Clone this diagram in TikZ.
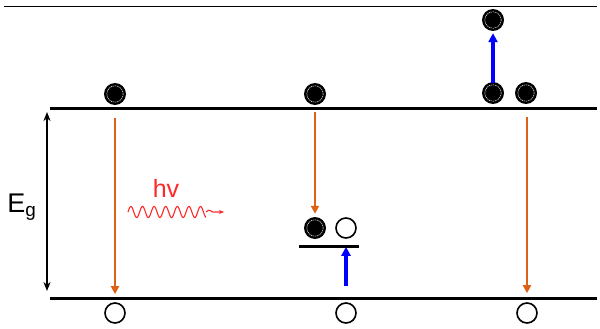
\documentclass[tikz,border=0pt]{standalone}
\usepackage{fontspec}
\setmainfont{Liberation Sans}
\usetikzlibrary{arrows.meta}
\definecolor{transorange}{RGB}{222,98,22}
\definecolor{photonred}{RGB}{255,40,40}
\tikzset{
  electron/.style={circle,fill=black,minimum size=22pt,inner sep=0pt,
    path picture={\draw[white,line width=0.5pt,dash pattern=on 1.2pt off 0.8pt]
      (path picture bounding box.center) circle[radius=8.2pt];}},
  hole/.style={circle,draw=black,line width=1.6pt,minimum size=20pt,inner sep=0pt},
  band/.style={line width=3pt},
  orangearrow/.style={transorange,line width=2.8pt,-{Triangle[length=8pt,width=8pt]}},
  bluearrow/.style={blue,line width=3.2pt,-{Triangle[length=9pt,width=9pt]}},
}
\begin{document}
\begin{tikzpicture}[x=1pt,y=-1pt]
\useasboundingbox (0,0) rectangle (600,329);
% top thin line
\coordinate (tl) at (4,7);
\coordinate (tr) at (597,7);
\draw[line width=1pt] (tl) -- (tr);
% bands
\coordinate (cbl) at (50,108);
\coordinate (cbr) at (597,108);
\coordinate (vbl) at (50,298);
\coordinate (vbr) at (597,298);
\draw[band] (cbl) -- (cbr);
\draw[band] (vbl) -- (vbr);
% trap level
\coordinate (trl) at (299,246);
\coordinate (trr) at (359,246);
\draw[band] (trl) -- (trr);
% Eg arrow
\coordinate (egt) at (47,112);
\coordinate (egb) at (47,291);
\draw[line width=2.4pt,{Stealth[length=9pt,width=7pt]}-{Stealth[length=9pt,width=7pt]}] (egt) -- (egb);
\node (eg) at (22,207) {\fontsize{27}{31}\selectfont E\textsubscript{g}};
% electrons
\node[electron] (e1) at (115,94) {};
\node[electron] (e2) at (315,94) {};
\node[electron] (e3) at (493,93) {};
\node[electron] (e4) at (526,93) {};
\node[electron] (e5) at (493,20) {};
\node[electron] (e6) at (315,228) {};
% holes
\node[hole] (h1) at (115,313) {};
\node[hole] (h2) at (346,313) {};
\node[hole] (h3) at (527,313) {};
\node[hole] (h4) at (346,228) {};
% transitions
\draw[orangearrow] ([yshift=-13pt]e1.south) -- ([yshift=8pt]h1.north);
\draw[orangearrow] ([yshift=-7pt]e2.south) -- ([yshift=3pt]e6.north);
\draw[orangearrow] ([yshift=-13pt]e4.south -| h3.north) -- ([yshift=9pt]h3.north);
\draw[bluearrow] ([yshift=16pt]h2.north) -- ([yshift=-8pt]h4.south);
\draw[bluearrow] ([yshift=-1pt]e3.north) -- ([yshift=-2pt]e5.south);
% photon
\node[text=photonred] (hv) at (166,188) {\fontsize{25}{29}\selectfont hv};
\draw[photonred,line width=1.1pt] plot[domain=0:78,samples=240,smooth] ({128+\x},{212-5.5*sin(\x*31)});
\coordinate (pa) at (206,212);
\coordinate (pb) at (224,212);
\draw[photonred,line width=1.1pt,-{Stealth[length=5pt,width=4pt]}] (pa) .. controls (210,207) and (212,214) .. (215,212) -- (pb);
\end{tikzpicture}
\end{document}
